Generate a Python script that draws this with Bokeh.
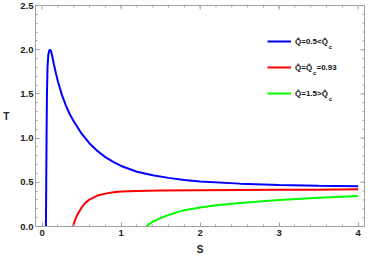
import numpy as np
from bokeh.plotting import figure
from bokeh.models import (FixedTicker, Legend, LegendItem, Label,
                          Range1d, PrintfTickFormatter)
from bokeh.embed import file_html
from bokeh.resources import INLINE

# ---- data ----
S_blue = [0.048, 0.052, 0.056, 0.061, 0.068, 0.078, 0.09, 0.1, 0.11, 0.125, 0.15,
          0.175, 0.2, 0.25, 0.3, 0.35, 0.4, 0.5, 0.6, 0.7, 0.8, 0.9, 1.0, 1.2,
          1.4, 1.6, 1.8, 2.0, 2.5, 3.0, 3.5, 4.0]
T_blue = [0.0, 0.5, 1.0, 1.5, 1.8, 1.94, 1.99, 2.0, 1.99, 1.94, 1.83,
          1.73, 1.64, 1.49, 1.37, 1.27, 1.19, 1.05, 0.94, 0.855, 0.785, 0.73, 0.685, 0.62,
          0.58, 0.55, 0.525, 0.51, 0.485, 0.47, 0.46, 0.455]

S_red = [0.39, 0.42, 0.45, 0.5, 0.55, 0.6, 0.7, 0.8, 0.9, 1.0, 1.2, 1.5, 2.0,
         2.5, 3.0, 3.5, 4.0]
T_red = [0.0, 0.08, 0.14, 0.215, 0.27, 0.305, 0.35, 0.372, 0.387, 0.395, 0.402,
         0.406, 0.41, 0.412, 0.415, 0.417, 0.42]

S_green = [1.32, 1.36, 1.4, 1.5, 1.6, 1.7, 1.8, 2.0, 2.2, 2.5, 3.0, 3.5, 4.0]
T_green = [0.0, 0.03, 0.055, 0.095, 0.13, 0.16, 0.185, 0.215, 0.24, 0.265, 0.30,
           0.325, 0.345]

x_ticks = [0, 1, 2, 3, 4]
y_ticks = [0.0, 0.5, 1.0, 1.5, 2.0, 2.5]
x_minor = [round(v, 2) for v in np.arange(0.2, 4.0, 0.2)]
y_minor = [round(v, 2) for v in np.arange(0.1, 2.5, 0.1)]

legend_main = ["Q\u0302=0.5<Q\u0302", "Q\u0302=Q\u0302", "Q\u0302=1.5>Q\u0302"]
legend_tail = ["", "=0.93", ""]

X0, X1 = -0.084, 4.08
Y0, Y1 = 0.0, 2.5

FONT = "Liberation Sans"
GRAY = "#a0a0a0"

p = figure(width=366, height=257, x_range=Range1d(X0, X1),
           y_range=Range1d(Y0, Y1), output_backend="svg", toolbar_location=None,
           min_border_left=25, min_border_right=2, min_border_top=5,
           min_border_bottom=30)
p.xgrid.visible = False
p.ygrid.visible = False
p.outline_line_color = GRAY
p.background_fill_color = "white"
p.border_fill_color = "white"

bottom = p.below[0]
left = p.left[0]
bottom.ticker = FixedTicker(ticks=x_ticks, minor_ticks=x_minor)
left.ticker = FixedTicker(ticks=y_ticks, minor_ticks=y_minor)

for ax in [bottom, left]:
    ax.axis_line_color = GRAY
    ax.major_tick_line_color = GRAY
    ax.minor_tick_line_color = GRAY
    ax.major_tick_in = 4
    ax.major_tick_out = 0
    ax.minor_tick_in = 2
    ax.minor_tick_out = 0
    ax.major_label_text_font = FONT
    ax.major_label_text_font_style = "bold"
    ax.major_label_text_font_size = "9.5px"
    ax.major_label_text_color = "#222222"
    ax.axis_label_text_font = FONT
    ax.axis_label_text_font_style = "bold"
    ax.axis_label_text_font_size = "10px"
    ax.axis_label_text_color = "#222222"

bottom.formatter = PrintfTickFormatter(format="%d")
left.formatter = PrintfTickFormatter(format="%.1f")
bottom.axis_label = "S"
left.axis_label = "T"
bottom.major_label_standoff = 3
bottom.axis_label_standoff = 5
left.major_label_standoff = 2
left.axis_label_standoff = 8
try:
    left.axis_label_orientation = "horizontal"
except Exception:
    pass

# inward ticks on the top and right frame edges (half of each dash is clipped)
p.scatter([X1] * len(y_ticks), y_ticks, marker="dash", size=8, line_color=GRAY, line_width=1)
p.scatter([X1] * len(y_minor), y_minor, marker="dash", size=4, line_color=GRAY, line_width=1)
p.scatter(x_ticks, [Y1] * len(x_ticks), marker="dash", angle=np.pi / 2, size=8,
          line_color=GRAY, line_width=1)
p.scatter(x_minor, [Y1] * len(x_minor), marker="dash", angle=np.pi / 2, size=4,
          line_color=GRAY, line_width=1)

r1 = p.line(S_blue, T_blue, line_color="#0000ff", line_width=2)
r2 = p.line(S_red, T_red, line_color="#ff0000", line_width=2)
r3 = p.line(S_green, T_green, line_color="#00ff00", line_width=2)

LX, LY = 232, 125
legend = Legend(items=[LegendItem(label=legend_main[0], renderers=[r1]),
                       LegendItem(label=legend_main[1], renderers=[r2]),
                       LegendItem(label=legend_main[2], renderers=[r3])],
                location=(LX, LY), orientation="vertical",
                glyph_width=24, glyph_height=16, label_height=16, spacing=10,
                label_standoff=4, padding=0, margin=0,
                border_line_alpha=0, background_fill_alpha=0,
                label_text_font=FONT, label_text_font_style="bold",
                label_text_font_size="8px", label_text_color="#111111")
p.add_layout(legend)

# subscripts "c" and trailing text, in screen units relative to the frame
text_x0 = LX + 24 + 4
main_w = [32.9, 17.1, 32.9]
centers = [LY + 60, LY + 34, LY + 8]
for i in range(3):
    xc = text_x0 + main_w[i] + 0.3
    p.add_layout(Label(x=xc, y=centers[i] - 5, x_units="screen", y_units="screen",
                       text="c", text_font=FONT, text_font_style="bold",
                       text_font_size="6px", text_color="#111111",
                       text_baseline="alphabetic"))
    if legend_tail[i]:
        p.add_layout(Label(x=xc + 3.6, y=centers[i], x_units="screen", y_units="screen",
                           text=legend_tail[i], text_font=FONT, text_font_style="bold",
                           text_font_size="8px", text_color="#111111",
                           text_baseline="middle"))

open("out.html", "w").write(file_html(p, INLINE))
